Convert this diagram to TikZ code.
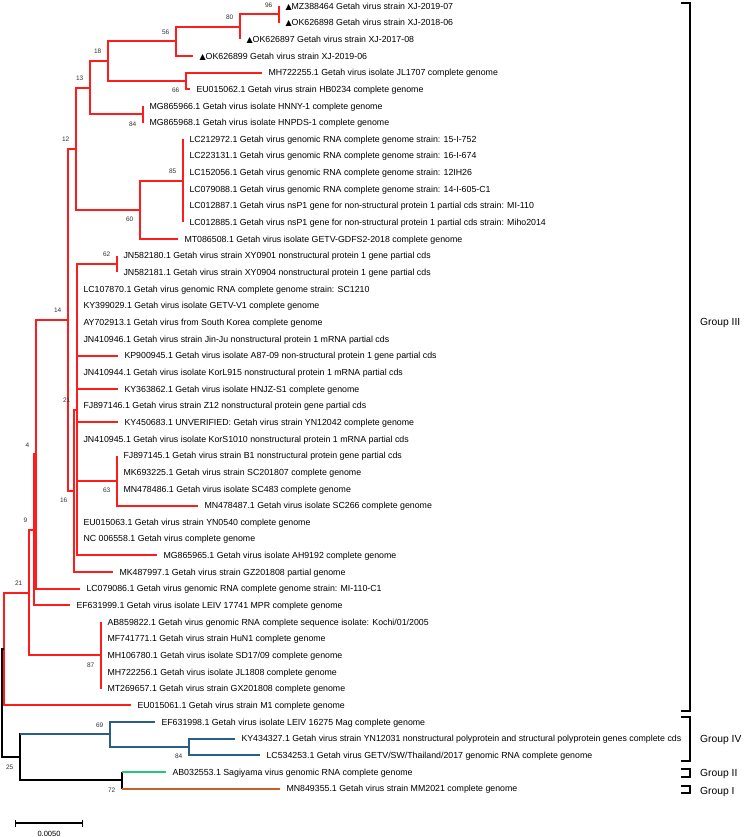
\documentclass[tikz,border=0pt]{standalone}
\usepackage{fontspec}
\setmainfont{Liberation Sans}
\newfontfamily\symfont{DejaVu Sans}
\usetikzlibrary{arrows.meta,calc}
\definecolor{gthree}{RGB}{255,28,28}
\definecolor{gfour}{RGB}{42,94,134}
\definecolor{gtwo}{RGB}{34,200,120}
\definecolor{gone}{RGB}{198,96,40}
\newcommand{\tri}{{\symfont\fontsize{8}{9}\selectfont ▲}}

\begin{document}
\begin{tikzpicture}[x=1pt,y=-1pt,
  font=\fontsize{8.8}{10}\selectfont,
  br/.style    = {line width=2pt},
  g3/.style    = {br, gthree},
  g4/.style    = {br, gfour},
  g2/.style    = {br, gtwo},
  g1/.style    = {br, gone},
  bk/.style    = {br, black},
  leaf/.style  = {anchor=west, inner sep=0pt, outer xsep=6.5pt, outer ysep=0pt,
                  text height=6.3pt, text depth=0pt},
  boot/.style  = {font=\fontsize{6.5}{7}\selectfont, inner sep=0pt, anchor=east,
                  text height=4.7pt, text depth=0pt, text=black!80},
  bup/.style   = {boot, xshift=-6.5pt, yshift=9.5pt},
  bdn/.style   = {boot, xshift=-6.5pt, yshift=-9.5pt},
  grp/.style   = {line width=1.6pt, black},
  grplab/.style= {anchor=west, inner sep=0pt, font=\fontsize{10.3}{12}\selectfont,
                  text height=7.4pt, text depth=0pt},
  scl/.style   = {line width=1.4pt, {Bar[width=7pt]}-{Bar[width=7pt]}}
]
\useasboundingbox (0,0) rectangle (745,837);

% internal nodes
\coordinate (root) at (1.5,703);
\coordinate (nIII) at (3.5,649);
\coordinate (n21b) at (29,592.6);
\coordinate (n9)   at (34,529.9);
\coordinate (n4)   at (36,454.3);
\coordinate (n14)  at (68,319.9);
\coordinate (n16)  at (74,491);
\coordinate (n21a) at (77,409.8);
\coordinate (n12)  at (76,148.8);
\coordinate (n13)  at (90,87.7);
\coordinate (n18)  at (108,61.1);
\coordinate (n56)  at (176,41.4);
\coordinate (n80)  at (240,26.8);
\coordinate (n96)  at (279,14.3);
\coordinate (n66)  at (186,80.9);
\coordinate (n84a) at (143,114.2);
\coordinate (n60)  at (140,210);
\coordinate (n85)  at (183,180.8);
\coordinate (n62)  at (117,264.1);
\coordinate (n63)  at (117,480.5);
\coordinate (n87)  at (101,655.4);
\coordinate (n25)  at (20,757.3);
\coordinate (n69)  at (110,734.4);
\coordinate (n84b) at (189,746.9);
\coordinate (n72)  at (122,780.2);

% leaves
\node[leaf] (mz388464) at (279,6)     {\tri MZ388464 Getah virus strain XJ-2019-07};
\node[leaf] (ok626898) at (279,22.65) {\tri OK626898 Getah virus strain XJ-2018-06};
\node[leaf] (ok626897) at (240,39.3)  {\tri OK626897 Getah virus strain XJ-2017-08};
\node[leaf] (ok626899) at (193,55.95) {\tri OK626899 Getah virus strain XJ-2019-06};
\node[leaf] (mh722255) at (262,72.6)  {MH722255.1 Getah virus isolate JL1707 complete genome};
\node[leaf] (eu015062) at (190,89.25) {EU015062.1 Getah virus strain HB0234 complete genome};
\node[leaf] (mg865966) at (143,105.9) {MG865966.1 Getah virus isolate HNNY-1 complete genome};
\node[leaf] (mg865968) at (143,122.55){MG865968.1 Getah virus isolate HNPDS-1 complete genome};
\node[leaf] (lc212972) at (183,139.2) {LC212972.1 Getah virus genomic RNA complete genome strain: 15-I-752};
\node[leaf] (lc223131) at (183,155.85){LC223131.1 Getah virus genomic RNA complete genome strain: 16-I-674};
\node[leaf] (lc152056) at (183,172.5) {LC152056.1 Getah virus genomic RNA complete genome strain: 12IH26};
\node[leaf] (lc079088) at (183,189.15){LC079088.1 Getah virus genomic RNA complete genome strain: 14-I-605-C1};
\node[leaf] (lc012887) at (183,205.8) {LC012887.1 Getah virus nsP1 gene for non-structural protein 1 partial cds strain: MI-110};
\node[leaf] (lc012885) at (183,222.45){LC012885.1 Getah virus nsP1 gene for non-structural protein 1 partial cds strain: Miho2014};
\node[leaf] (mt086508) at (178,239.1) {MT086508.1 Getah virus isolate GETV-GDFS2-2018 complete genome};
\node[leaf] (jn582180) at (117,255.75){JN582180.1 Getah virus strain XY0901 nonstructural protein 1 gene partial cds};
\node[leaf] (jn582181) at (117,272.4) {JN582181.1 Getah virus strain XY0904 nonstructural protein 1 gene partial cds};
\node[leaf] (lc107870) at (77,289.05) {LC107870.1 Getah virus genomic RNA complete genome strain: SC1210};
\node[leaf] (ky399029) at (77,305.7)  {KY399029.1 Getah virus isolate GETV-V1 complete genome};
\node[leaf] (ay702913) at (77,322.35) {AY702913.1 Getah virus from South Korea complete genome};
\node[leaf] (jn410946) at (77,339)    {JN410946.1 Getah virus strain Jin-Ju nonstructural protein 1 mRNA partial cds};
\node[leaf] (kp900945) at (118,355.65){KP900945.1 Getah virus isolate A87-09 non-structural protein 1 gene partial cds};
\node[leaf] (jn410944) at (77,372.3)  {JN410944.1 Getah virus isolate KorL915 nonstructural protein 1 mRNA partial cds};
\node[leaf] (ky363862) at (118,388.95){KY363862.1 Getah virus isolate HNJZ-S1 complete genome};
\node[leaf] (fj897146) at (77,405.6)  {FJ897146.1 Getah virus strain Z12 nonstructural protein gene partial cds};
\node[leaf] (ky450683) at (118,422.25){KY450683.1 UNVERIFIED: Getah virus strain YN12042 complete genome};
\node[leaf] (jn410945) at (77,438.9)  {JN410945.1 Getah virus isolate KorS1010 nonstructural protein 1 mRNA partial cds};
\node[leaf] (fj897145) at (117,455.55){FJ897145.1 Getah virus strain B1 nonstructural protein gene partial cds};
\node[leaf] (mk693225) at (117,472.2) {MK693225.1 Getah virus strain SC201807 complete genome};
\node[leaf] (mn478486) at (117,488.85){MN478486.1 Getah virus isolate SC483 complete genome};
\node[leaf] (mn478487) at (198,505.5) {MN478487.1 Getah virus isolate SC266 complete genome};
\node[leaf] (eu015063) at (77,522.15) {EU015063.1 Getah virus strain YN0540 complete genome};
\node[leaf] (nc006558) at (77,538.8)  {NC 006558.1 Getah virus complete genome};
\node[leaf] (mg865965) at (157,555.45){MG865965.1 Getah virus isolate AH9192 complete genome};
\node[leaf] (mk487997) at (113,572.1) {MK487997.1 Getah virus strain GZ201808 partial genome};
\node[leaf] (lc079086) at (80,588.75) {LC079086.1 Getah virus genomic RNA complete genome strain: MI-110-C1};
\node[leaf] (ef631999) at (70,605.4)  {EF631999.1 Getah virus isolate LEIV 17741 MPR complete genome};
\node[leaf] (ab859822) at (101,622.05){AB859822.1 Getah virus genomic RNA complete sequence isolate: Kochi/01/2005};
\node[leaf] (mf741771) at (101,638.7) {MF741771.1 Getah virus strain HuN1 complete genome};
\node[leaf] (mh106780) at (101,655.35){MH106780.1 Getah virus isolate SD17/09 complete genome};
\node[leaf] (mh722256) at (101,672)   {MH722256.1 Getah virus isolate JL1808 complete genome};
\node[leaf] (mt269657) at (101,688.65){MT269657.1 Getah virus strain GX201808 complete genome};
\node[leaf] (eu015061) at (131,705.3) {EU015061.1 Getah virus strain M1 complete genome};
\node[leaf] (ef631998) at (155,721.95){EF631998.1 Getah virus isolate LEIV 16275 Mag complete genome};
\node[leaf] (ky434327) at (235,738.6) {KY434327.1 Getah virus strain YN12031 nonstructural polyprotein and structural polyprotein genes complete cds};
\node[leaf] (lc534253) at (260,755.25){LC534253.1 Getah virus GETV/SW/Thailand/2017 genomic RNA complete genome};
\node[leaf] (ab032553) at (166,771.9) {AB032553.1 Sagiyama virus genomic RNA complete genome};
\node[leaf] (mn849355) at (280,788.55){MN849355.1 Getah virus strain MM2021 complete genome};

% Group III branches
\draw[g3] (n96) |- (mz388464.west) (n96) |- (ok626898.west);
\draw[g3] (n80) |- (n96) (n80) |- (ok626897.west);
\draw[g3] (n56) |- (n80) (n56) |- (ok626899.west);
\draw[g3] (n66) |- (mh722255.west) (n66) |- (eu015062.west);
\draw[g3] (n18) |- (n56) (n18) |- (n66);
\draw[g3] (n84a) |- (mg865966.west) (n84a) |- (mg865968.west);
\draw[g3] (n13) |- (n18) (n13) |- (n84a);
\draw[g3] (n85) |- (lc212972.west) (n85) |- (lc012885.west);
\draw[g3] (n60) |- (n85) (n60) |- (mt086508.west);
\draw[g3] (n12) |- (n13) (n12) |- (n60);
\draw[g3] (n62) |- (jn582180.west) (n62) |- (jn582181.west);
\draw[g3] (n63) |- (fj897145.west) (n63) |- (mn478487.west);
\draw[g3] (n21a) |- (n62) (n21a) |- (mg865965.west);
\draw[g3] (n21a |- kp900945.west) -- (kp900945.west);
\draw[g3] (n21a |- ky363862.west) -- (ky363862.west);
\draw[g3] (n21a |- ky450683.west) -- (ky450683.west);
\draw[g3] (n21a |- n63) -- (n63);
\draw[g3] (n16) |- (n21a) (n16) |- (mk487997.west);
\draw[g3] (n14) |- (n12) (n14) |- (n16);
\draw[g3] (n4) |- (n14) (n4) |- (lc079086.west);
\draw[g3] (n9) |- (n4) (n9) |- (ef631999.west);
\draw[g3] (n87) |- (ab859822.west) (n87) |- (mt269657.west);
\draw[g3] (n21b) |- (n9) (n21b) |- (n87);
\draw[g3] (nIII) |- (n21b) (nIII) |- (eu015061.west);

% backbone and Groups IV, II, I
\draw[bk] (root) |- (nIII) (root) |- (n25);
\draw[bk] (n25) |- (n69) (n25) |- (n72);
\draw[g4] (n25 |- n69) -- (n69);
\draw[g4] (n69) |- (ef631998.west) (n69) |- (n84b);
\draw[g4] (n84b) |- (ky434327.west) (n84b) |- (lc534253.west);
\draw[bk] (n72 |- ab032553.west) -- (n72 |- mn849355.west);
\draw[g2] (n72 |- ab032553.west) -- (ab032553.west);
\draw[g1] (n72 |- mn849355.west) -- (mn849355.west);

% bootstrap values
\node[bup] at (n96)  {96};
\node[bup] at (n80)  {80};
\node[bup] at (n56)  {56};
\node[bup] at (n18)  {18};
\node[bup] at (n13)  {13};
\node[bdn] at (n66)  {66};
\node[bdn] at (n84a) {84};
\node[bup] at (n12)  {12};
\node[bup] at (n85)  {85};
\node[bdn] at (n60)  {60};
\node[bup] at (n62)  {62};
\node[bup] at (n14)  {14};
\node[bup] at (n21a) {21};
\node[bup] at (n4)   {4};
\node[bdn] at (n63)  {63};
\node[bdn] at (n16)  {16};
\node[bup] at (n9)   {9};
\node[bup] at (n21b) {21};
\node[bdn] at (n87)  {87};
\node[bup] at (n69)  {69};
\node[bdn] at (n84b) {84};
\node[bdn] at (n25)  {25};
\node[bdn] at (n72)  {72};

% group brackets
\draw[grp] (681,3) -- (690,3) -- (690,711) -- (681,711);
\draw[grp] (681,717) -- (690,717) -- (690,761) -- (681,761);
\draw[grp] (681,769) -- (690,769) -- (690,777) -- (681,777);
\draw[grp] (681,786) -- (690,786) -- (690,793) -- (681,793);
\node[grplab] (gIII) at (700,322) {Group III};
\node[grplab] (gIV)  at (700,739) {Group IV};
\node[grplab] (gII)  at (700,773) {Group II};
\node[grplab] (gI)   at (700,791) {Group I};

% scale bar
\coordinate (sbl) at (15,823);
\coordinate (sbr) at (83,823);
\draw[scl] (sbl) -- (sbr);
\node[font=\fontsize{7.5}{9}\selectfont, inner sep=0pt] (sblab) at (49,833.5) {0.0050};

\end{tikzpicture}
\end{document}
